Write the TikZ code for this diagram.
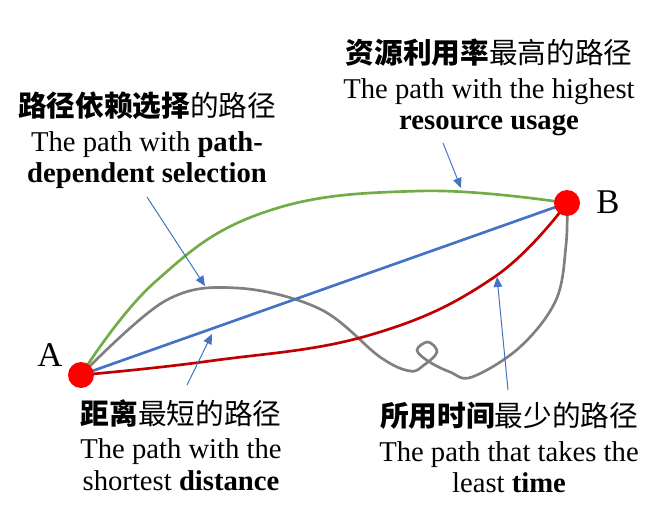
\documentclass[tikz,border=0pt]{standalone}
\usepackage{fontspec}
\setmainfont{Liberation Serif}
\newfontfamily\cjk{Noto Sans CJK SC}
\usetikzlibrary{arrows.meta,backgrounds}
\definecolor{pathgreen}{RGB}{112,173,71}
\definecolor{pathblue}{RGB}{68,114,196}
\definecolor{pathred}{RGB}{192,0,0}
\definecolor{pathgray}{RGB}{128,128,128}
\begin{document}
\begin{tikzpicture}[x=0.75pt, y=-0.75pt,
    route/.style={line width=2pt, line cap=round},
    pointer/.style={pathblue, line width=0.75pt, -{Triangle[length=7.5pt,width=6.5pt]}},
    dot/.style={circle, fill=red, inner sep=0pt, minimum size=19.5pt},
    endname/.style={inner sep=0pt, font=\fontsize{26}{30}\selectfont},
    caption/.style={align=center, anchor=north, inner sep=0pt, font=\fontsize{21.5}{23.6}\selectfont}]
  \useasboundingbox (0,0) rectangle (671,528);
  \node[dot] (A) at (81,375) {};
  \node[dot] (B) at (567,203) {};
  \node[endname] (nameA) at (50,355) {A};
  \node[endname] (nameB) at (608,202) {B};
  \begin{pgfonlayer}{background}
    \draw[route, pathgreen] plot[smooth, tension=0.7] coordinates {(A.center) (155,282) (265,212) (420,191) (B.center)};
    \draw[route, pathgray] plot[smooth, tension=0.6] coordinates {(A.center) (165,301) (237,288) (320,309) (380,357) (410,371) (424,365) (437,352) (428,342) (417,350) (428,361) (450,372) (472,377) (520,347) (556,300) (566,245) (B.center)};
    \draw[route, pathred] plot[smooth, tension=0.7] coordinates {(A.center) (210,361) (370,335) (493,278) (B.center)};
    \draw[route, pathblue] (A.center) -- (B.center);
  \end{pgfonlayer}
  \node[caption] (usage) at (489,39) {{\cjk\bfseries 资源利用率}{\cjk 最高的路径}\\[2.3pt] The path with the highest\\ \textbf{resource usage}};
  \node[caption] (depend) at (147,92) {{\cjk\bfseries 路径依赖选择}{\cjk 的路径}\\[2.3pt] The path with \textbf{path-}\\ \textbf{dependent selection}};
  \node[caption] (short) at (181,399) {{\cjk\bfseries 距离}{\cjk 最短的路径}\\[2.3pt] The path with the\\ shortest \textbf{distance}};
  \node[caption] (fast) at (509,402) {{\cjk\bfseries 所用时间}{\cjk 最少的路径}\\[2.3pt] The path that takes the\\ least \textbf{time}};
  \coordinate (usageTip) at (461,188);
  \coordinate (dependTip) at (205,286);
  \coordinate (shortTip) at (212,334);
  \coordinate (fastTip) at (497,277);
  \draw[pointer] (443,143) -- (usageTip);
  \draw[pointer] (147,197) -- (dependTip);
  \draw[pointer] (187,385) -- (shortTip);
  \draw[pointer] (508,390) -- (fastTip);
\end{tikzpicture}
\end{document}
